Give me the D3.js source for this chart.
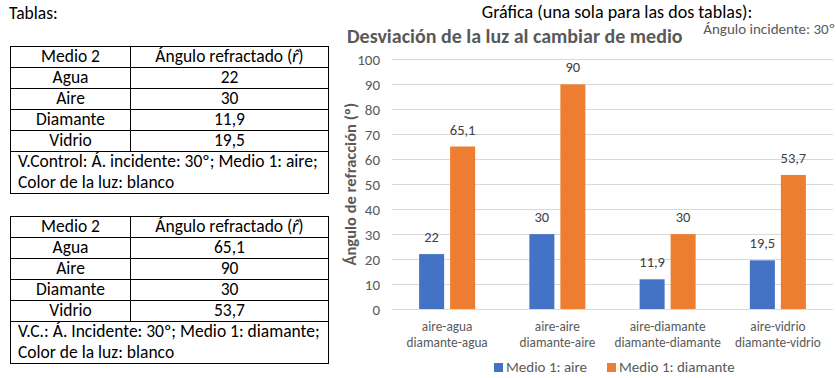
<!DOCTYPE html>
<html>
<head>
<meta charset="utf-8">
<script src="https://cdn.jsdelivr.net/npm/d3@7"></script>
<style>
  html, body { margin: 0; padding: 0; background: #fff; }
  svg { display: block; }
</style>
</head>
<body>
<svg id="chart" width="836" height="378"></svg>
<script>
// ---- data ----
const medio2 = ["Agua", "Aire", "Diamante", "Vidrio"];
const catLine1 = ["aire-agua", "aire-aire", "aire-diamante", "aire-vidrio"];
const catLine2 = ["diamante-agua", "diamante-aire", "diamante-diamante", "diamante-vidrio"];
const seriesNames = ["Medio 1: aire", "Medio 1: diamante"];
const valuesAire = [22, 30, 11.9, 19.5];
const valuesDiamante = [65.1, 90, 30, 53.7];
const yTicks = [0, 10, 20, 30, 40, 50, 60, 70, 80, 90, 100];
const colors = ["#4472C4", "#ED7D31"];
const footer1 = ["V.Control: Á. incidente: 30º; Medio 1: aire;", "Color de la luz: blanco"];
const footer2 = ["V.C.: Á. Incidente: 30º; Medio 1: diamante;", "Color de la luz: blanco"];

const locale = d3.formatLocale({decimal: ",", thousands: ".", grouping: [3], currency: ["", "€"]});
const fmt = v => locale.format("~g")(v);

const FONT = "Carlito, Lato, 'Liberation Sans', sans-serif";
const svg = d3.select("#chart").style("font-family", FONT);
const TFS = 17.5;

// ---- left side: tables ----
svg.append("text").attr("x", 9).attr("y", 18.5).attr("font-size", TFS).attr("fill", "#000").text("Tablas:");

function drawTable(top, vals, footer) {
  const g = svg.append("g");
  const x0 = 10.5, x1 = 130.5, x2 = 328.5, rowH = 21;
  const rowYs = d3.range(6).map(i => top + i * rowH);
  const bottom = top + 5 * rowH + 42;
  g.append("rect").attr("x", x0).attr("y", top + 0.5).attr("width", x2 - x0).attr("height", bottom - top)
    .attr("fill", "none").attr("stroke", "#000").attr("stroke-width", 1);
  rowYs.slice(1).forEach(y => g.append("line").attr("x1", x0).attr("x2", x2).attr("y1", y + 0.5).attr("y2", y + 0.5).attr("stroke", "#000"));
  g.append("line").attr("x1", x1).attr("x2", x1).attr("y1", top).attr("y2", rowYs[5]).attr("stroke", "#000");
  const c1 = (x0 + x1) / 2, c2 = (x1 + x2) / 2;
  g.append("text").attr("x", c1).attr("y", top + 15.7).attr("text-anchor", "middle").attr("font-size", TFS).text("Medio 2");
  const h = g.append("text").attr("x", c2).attr("y", top + 15.7).attr("text-anchor", "middle").attr("font-size", TFS);
  h.append("tspan").text("Ángulo refractado (");
  h.append("tspan").attr("font-style", "italic").text("r\u0302");
  h.append("tspan").text(")");
  medio2.forEach((m, i) => {
    const y = rowYs[i + 1] + 15.5;
    g.append("text").attr("x", c1).attr("y", y).attr("text-anchor", "middle").attr("font-size", TFS).text(m);
    g.append("text").attr("x", c2).attr("y", y).attr("text-anchor", "middle").attr("font-size", TFS).text(fmt(vals[i]));
  });
  footer.forEach((t, i) => {
    g.append("text").attr("x", 18).attr("y", rowYs[5] + 15.7 + i * 21).attr("font-size", TFS).text(t);
  });
}
drawTable(46, valuesAire, footer1);
drawTable(216, valuesDiamante, footer2);

// ---- chart ----
svg.append("text").attr("x", 617).attr("y", 17.5).attr("text-anchor", "middle").attr("font-size", 18).attr("fill", "#000")
  .text("Gráfica (una sola para las dos tablas):");
svg.append("text").attr("x", 835).attr("y", 33.5).attr("text-anchor", "end").attr("font-size", 15).attr("fill", "#595959")
  .text("Ángulo incidente: 30º");
svg.append("text").attr("x", 347).attr("y", 43).attr("font-size", 20).attr("font-weight", "bold").attr("fill", "#595959")
  .text("Desviación de la luz al cambiar de medio");

const plotL = 392, plotR = 833, plotT = 59.4, plotB = 309;
const y = d3.scaleLinear().domain([0, 100]).range([plotB, plotT]);
const x0 = d3.scaleBand().domain(catLine1).range([plotL, plotR]).paddingInner(0).paddingOuter(0);
const bw = x0.bandwidth();
const groupW = bw * 0.508;
const x1 = d3.scaleBand().domain(seriesNames).range([(bw - groupW) / 2, (bw + groupW) / 2]).paddingInner(6 / 31).paddingOuter(0);

// gridlines
svg.append("g").selectAll("line").data(yTicks).join("line")
  .attr("x1", plotL).attr("x2", plotR)
  .attr("y1", d => Math.round(y(d)) + 0.5).attr("y2", d => Math.round(y(d)) + 0.5)
  .attr("stroke", "#D9D9D9").attr("stroke-width", 1);

// y axis labels
const yAxis = d3.axisLeft(y).tickValues(yTicks).tickSize(0).tickPadding(0).tickFormat(d => d);
const yg = svg.append("g").attr("transform", `translate(380,0)`).call(yAxis);
yg.select(".domain").remove();
yg.selectAll("text").attr("font-size", 15).attr("fill", "#595959").attr("font-family", FONT).attr("dy", "0.35em");

// y axis title
svg.append("text").attr("transform", `translate(355.5,${(plotT + plotB) / 2}) rotate(-90)`)
  .attr("text-anchor", "middle").attr("font-size", 16.5).attr("font-weight", "bold").attr("fill", "#595959")
  .text("Ángulo de refracción (º)");

// bars
const seriesVals = [valuesAire, valuesDiamante];
const groups = svg.append("g").selectAll("g").data(catLine1).join("g")
  .attr("transform", d => `translate(${x0(d)},0)`);
groups.selectAll("rect").data((d, i) => seriesNames.map((s, j) => ({s, v: seriesVals[j][i], j})))
  .join("rect")
  .attr("x", d => x1(d.s)).attr("width", x1.bandwidth())
  .attr("y", d => y(d.v)).attr("height", d => y(0) - y(d.v))
  .attr("fill", d => colors[d.j]);
groups.selectAll("text.lbl").data((d, i) => seriesNames.map((s, j) => ({s, v: seriesVals[j][i], j})))
  .join("text").attr("class", "lbl")
  .attr("x", d => x1(d.s) + x1.bandwidth() / 2).attr("y", d => y(d.v) - 12)
  .attr("text-anchor", "middle").attr("font-size", 14.5).attr("fill", "#404040")
  .text(d => fmt(d.v));

// x axis line
svg.append("line").attr("x1", plotL).attr("x2", plotR).attr("y1", Math.round(plotB) + 0.5).attr("y2", Math.round(plotB) + 0.5)
  .attr("stroke", "#D9D9D9");

// x labels (two lines)
const xAxis = d3.axisBottom(x0).tickSize(0).tickFormat("");
const xg = svg.append("g").attr("transform", `translate(0,${plotB})`).call(xAxis);
xg.select(".domain").remove();
xg.selectAll(".tick").each(function(d, i) {
  const t = d3.select(this).append("text").attr("text-anchor", "middle").attr("font-size", 13.3).attr("fill", "#595959")
    .attr("font-family", FONT);
  t.append("tspan").attr("x", 0).attr("y", 22).text(catLine1[i]);
  t.append("tspan").attr("x", 0).attr("y", 38).text(catLine2[i]);
});

// legend
const legendX = [494, 607];
const lg = svg.append("g");
seriesNames.forEach((s, j) => {
  lg.append("rect").attr("x", legendX[j]).attr("y", 363).attr("width", 9).attr("height", 9).attr("fill", colors[j]);
  lg.append("text").attr("x", legendX[j] + 12).attr("y", 372).attr("font-size", 15).attr("fill", "#595959").text(s);
});
</script>
</body>
</html>
